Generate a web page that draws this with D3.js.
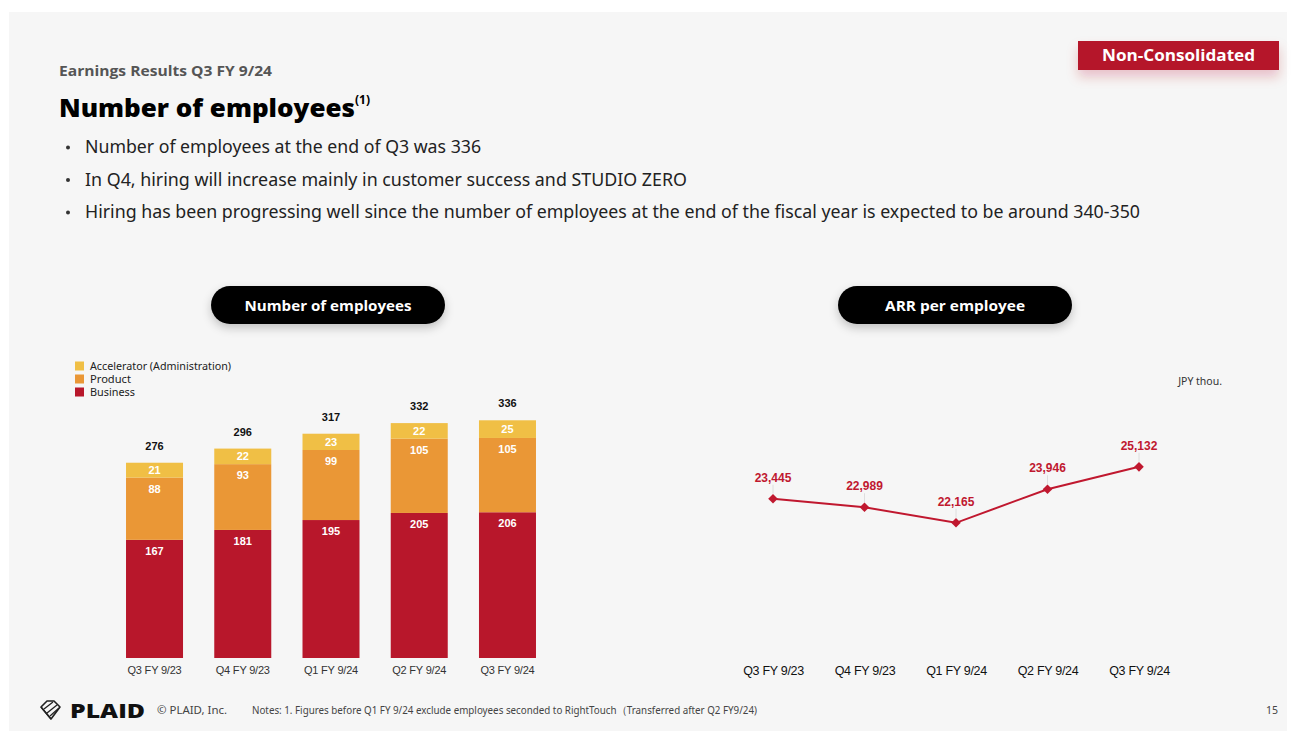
<!DOCTYPE html>
<html>
<head>
<meta charset="utf-8">
<script src="https://cdn.jsdelivr.net/npm/d3@7"></script>
<style>
  html, body { margin: 0; padding: 0; background: #ffffff; }
  svg { display: block; }
</style>
</head>
<body>
<svg id="slide" width="1295" height="731"></svg>
<script>
// ---- data ----
const quarters = ["Q3 FY 9/23", "Q4 FY 9/23", "Q1 FY 9/24", "Q2 FY 9/24", "Q3 FY 9/24"];
const business = [167, 181, 195, 205, 206];
const product = [88, 93, 99, 105, 105];
const accelerator = [21, 22, 23, 22, 25];
const totals = [276, 296, 317, 332, 336];
const arrPerEmployee = [23445, 22989, 22165, 23946, 25132];
const seriesNames = ["Business", "Product", "Accelerator (Administration)"];
const legendOrder = ["Accelerator (Administration)", "Product", "Business"];
const bullets = [
  "Number of employees at the end of Q3 was 336",
  "In Q4, hiring will increase mainly in customer success and STUDIO ZERO",
  "Hiring has been progressing well since the number of employees at the end of the fiscal year is expected to be around 340-350"
];

const colors = {
  "Business": "#b8172b",
  "Product": "#ea9736",
  "Accelerator (Administration)": "#f0bf45"
};
const lineRed = "#c0182f";
const bodyFont = "'Noto Sans', 'Open Sans', sans-serif";
const headFont = "'Open Sans', 'Lato', sans-serif";
const chartFont = "'Liberation Sans', Arial, sans-serif";

const svg = d3.select("#slide");

// fit a text node to a given width by adjusting glyph spacing
function fitWidth(sel, w) {
  sel.each(function () {
    const len = this.getComputedTextLength();
    if (len > 0) {
      d3.select(this).attr("textLength", w).attr("lengthAdjust", "spacingAndGlyphs");
    }
  });
  return sel;
}

// ---- defs: shadows ----
const defs = svg.append("defs");
const pillShadow = defs.append("filter").attr("id", "pillShadow")
  .attr("x", "-20%").attr("y", "-50%").attr("width", "140%").attr("height", "220%");
pillShadow.append("feDropShadow").attr("dx", 0).attr("dy", 4).attr("stdDeviation", 5)
  .attr("flood-color", "#000").attr("flood-opacity", 0.22);
const badgeShadow = defs.append("filter").attr("id", "badgeShadow")
  .attr("x", "-20%").attr("y", "-60%").attr("width", "140%").attr("height", "260%");
badgeShadow.append("feDropShadow").attr("dx", 0).attr("dy", 7).attr("stdDeviation", 6)
  .attr("flood-color", "#b5162b").attr("flood-opacity", 0.22);

// ---- slide background ----
svg.append("rect").attr("x", 9).attr("y", 12).attr("width", 1278).attr("height", 719)
  .attr("fill", "#f6f6f6");

// ---- header ----
fitWidth(svg.append("text").attr("x", 59).attr("y", 76)
  .attr("font-family", headFont).attr("font-weight", 700).attr("font-size", 13.5)
  .attr("fill", "#555").text("Earnings Results Q3 FY 9/24"), 213);

fitWidth(svg.append("text").attr("x", 59).attr("y", 117)
  .attr("font-family", headFont).attr("font-weight", 800).attr("font-size", 25)
  .attr("fill", "#000").text("Number of employees"), 296);
svg.append("text").attr("x", 355).attr("y", 104)
  .attr("font-family", headFont).attr("font-weight", 700).attr("font-size", 12)
  .attr("fill", "#000").text("(1)");

const bulletWidths = [396, 602, 1055];
bullets.forEach((t, i) => {
  const y = 153 + i * 32.5;
  svg.append("circle").attr("cx", 68).attr("cy", y - 5.5).attr("r", 2).attr("fill", "#333");
  fitWidth(svg.append("text").attr("x", 85).attr("y", y)
    .attr("font-family", bodyFont).attr("font-size", 18.5).attr("fill", "#222").text(t), bulletWidths[i]);
});

// ---- Non-Consolidated badge ----
svg.append("rect").attr("x", 1078).attr("y", 41).attr("width", 201).attr("height", 29)
  .attr("fill", "#b5162b").attr("filter", "url(#badgeShadow)");
fitWidth(svg.append("text").attr("x", 1102).attr("y", 61)
  .attr("font-family", headFont).attr("font-weight", 700).attr("font-size", 16)
  .attr("fill", "#fff").text("Non-Consolidated"), 153);

// ---- section pills ----
function pill(x, label, textW) {
  svg.append("rect").attr("x", x).attr("y", 286).attr("width", 234).attr("height", 38)
    .attr("rx", 19).attr("fill", "#000").attr("filter", "url(#pillShadow)");
  fitWidth(svg.append("text").attr("x", x + 117 - textW / 2).attr("y", 310.5)
    .attr("font-family", headFont).attr("font-weight", 700).attr("font-size", 15)
    .attr("fill", "#fff").text(label), textW);
}
pill(211, "Number of employees", 167);
pill(838, "ARR per employee", 140);

// ---- stacked bar chart ----
const plotBottom = 658, plotTop = 375;
const xBar = d3.scaleBand().domain(quarters).range([110.4, 551.6])
  .paddingInner(0.354).paddingOuter(0.177);
const yBar = d3.scaleLinear().domain([0, 400]).range([plotBottom, plotTop]);

const rows = quarters.map((q, i) => ({
  q, "Business": business[i], "Product": product[i],
  "Accelerator (Administration)": accelerator[i], total: totals[i]
}));
const stack = d3.stack().keys(seriesNames)(rows);

const barG = svg.append("g");
stack.forEach(layer => {
  const key = layer.key;
  const g = barG.append("g");
  g.selectAll("rect").data(layer).join("rect")
    .attr("x", d => xBar(d.data.q))
    .attr("width", xBar.bandwidth())
    .attr("y", d => yBar(d[1]))
    .attr("height", d => yBar(d[0]) - yBar(d[1]))
    .attr("fill", colors[key]);
  g.selectAll("text").data(layer).join("text")
    .attr("x", d => xBar(d.data.q) + xBar.bandwidth() / 2)
    .attr("y", d => key === "Accelerator (Administration)"
      ? (yBar(d[1]) + yBar(d[0])) / 2 + 4
      : yBar(d[1]) + 15)
    .attr("text-anchor", "middle")
    .attr("font-family", chartFont).attr("font-weight", 700).attr("font-size", 11)
    .attr("fill", "#fff")
    .text(d => d.data[key]);
});
barG.append("g").selectAll("text").data(rows).join("text")
  .attr("x", d => xBar(d.q) + xBar.bandwidth() / 2)
  .attr("y", d => yBar(d.total) - 13)
  .attr("text-anchor", "middle")
  .attr("font-family", chartFont).attr("font-weight", 700).attr("font-size", 11)
  .attr("fill", "#111")
  .text(d => d.total);

const xAxisBar = svg.append("g").attr("transform", `translate(0,${plotBottom})`)
  .call(d3.axisBottom(xBar).tickSize(0).tickPadding(8));
xAxisBar.select(".domain").remove();
xAxisBar.selectAll("text").attr("font-family", chartFont).attr("font-size", 11)
  .attr("fill", "#333").attr("letter-spacing", -0.2);

// legend
const legend = svg.append("g");
const legendWidths = [141, 41, 45];
legendOrder.forEach((name, i) => {
  const cy = 366 + i * 13;
  legend.append("rect").attr("x", 75).attr("y", cy - 4.5).attr("width", 9).attr("height", 9)
    .attr("fill", colors[name]);
  fitWidth(legend.append("text").attr("x", 90).attr("y", cy + 4)
    .attr("font-family", bodyFont).attr("font-size", 11).attr("fill", "#222").text(name), legendWidths[i]);
});

// ---- ARR per employee line chart ----
const xLine = d3.scalePoint().domain(quarters).range([773, 1139]);
const yLine = d3.scaleLinear().domain([15000, 30000]).range([plotBottom, plotTop]);
const linePts = quarters.map((q, i) => ({ q, v: arrPerEmployee[i] }));

const lineG = svg.append("g");
lineG.append("path").datum(linePts)
  .attr("d", d3.line().x(d => xLine(d.q)).y(d => yLine(d.v)))
  .attr("fill", "none").attr("stroke", lineRed).attr("stroke-width", 2);
lineG.selectAll("line.leader").data(linePts).join("line").attr("class", "leader")
  .attr("x1", d => xLine(d.q)).attr("x2", d => xLine(d.q))
  .attr("y1", d => yLine(d.v) - 14).attr("y2", d => yLine(d.v) - 5)
  .attr("stroke", "#d8d8d8").attr("stroke-width", 0.8);
lineG.selectAll("path.marker").data(linePts).join("path").attr("class", "marker")
  .attr("d", d3.symbol(d3.symbolSquare, 46))
  .attr("transform", d => `translate(${xLine(d.q)},${yLine(d.v)}) rotate(45)`)
  .attr("fill", lineRed);
lineG.selectAll("text").data(linePts).join("text")
  .attr("x", d => xLine(d.q)).attr("y", d => yLine(d.v) - 17)
  .attr("text-anchor", "middle")
  .attr("font-family", chartFont).attr("font-weight", 700).attr("font-size", 12)
  .attr("fill", lineRed)
  .text(d => d3.format(",")(d.v));

const xAxisLine = svg.append("g").attr("transform", `translate(0,${plotBottom})`)
  .call(d3.axisBottom(xLine).tickSize(0).tickPadding(8));
xAxisLine.select(".domain").remove();
xAxisLine.selectAll("text").attr("font-family", chartFont).attr("font-size", 12.5)
  .attr("fill", "#111").attr("letter-spacing", -0.3);

svg.append("text").attr("x", 1222).attr("y", 385).attr("text-anchor", "end")
  .attr("font-family", bodyFont).attr("font-size", 10.5).attr("fill", "#333").text("JPY thou.");

// ---- footer ----
const logo = svg.append("g").attr("transform", "translate(50,710)")
  .attr("fill", "none").attr("stroke", "#222").attr("stroke-width", 1.6).attr("stroke-linejoin", "round");
logo.append("path").attr("d", "M-9,-3 L-3,-9 L4,-9 L10,-3 L1,9 Z");
logo.append("path").attr("d", "M-6,-1 L3,-8 M-3,3 L7,-5 M0,6 L9,-2 M-9,-3 L1,9").attr("stroke-width", 1.3);
fitWidth(svg.append("text").attr("x", 70).attr("y", 718)
  .attr("font-family", headFont).attr("font-weight", 800).attr("font-size", 20)
  .attr("fill", "#111").text("PLAID"), 75);
fitWidth(svg.append("text").attr("x", 157).attr("y", 714)
  .attr("font-family", bodyFont).attr("font-size", 11).attr("fill", "#444").text("© PLAID, Inc."), 70);
fitWidth(svg.append("text").attr("x", 252).attr("y", 714)
  .attr("font-family", bodyFont).attr("font-size", 10.5).attr("fill", "#444")
  .text("Notes: 1. Figures before Q1 FY 9/24 exclude employees seconded to RightTouch（Transferred after Q2 FY9/24)"), 505);
svg.append("text").attr("x", 1278).attr("y", 714).attr("text-anchor", "end")
  .attr("font-family", bodyFont).attr("font-size", 10.5).attr("fill", "#444").text("15");
</script>
</body>
</html>
